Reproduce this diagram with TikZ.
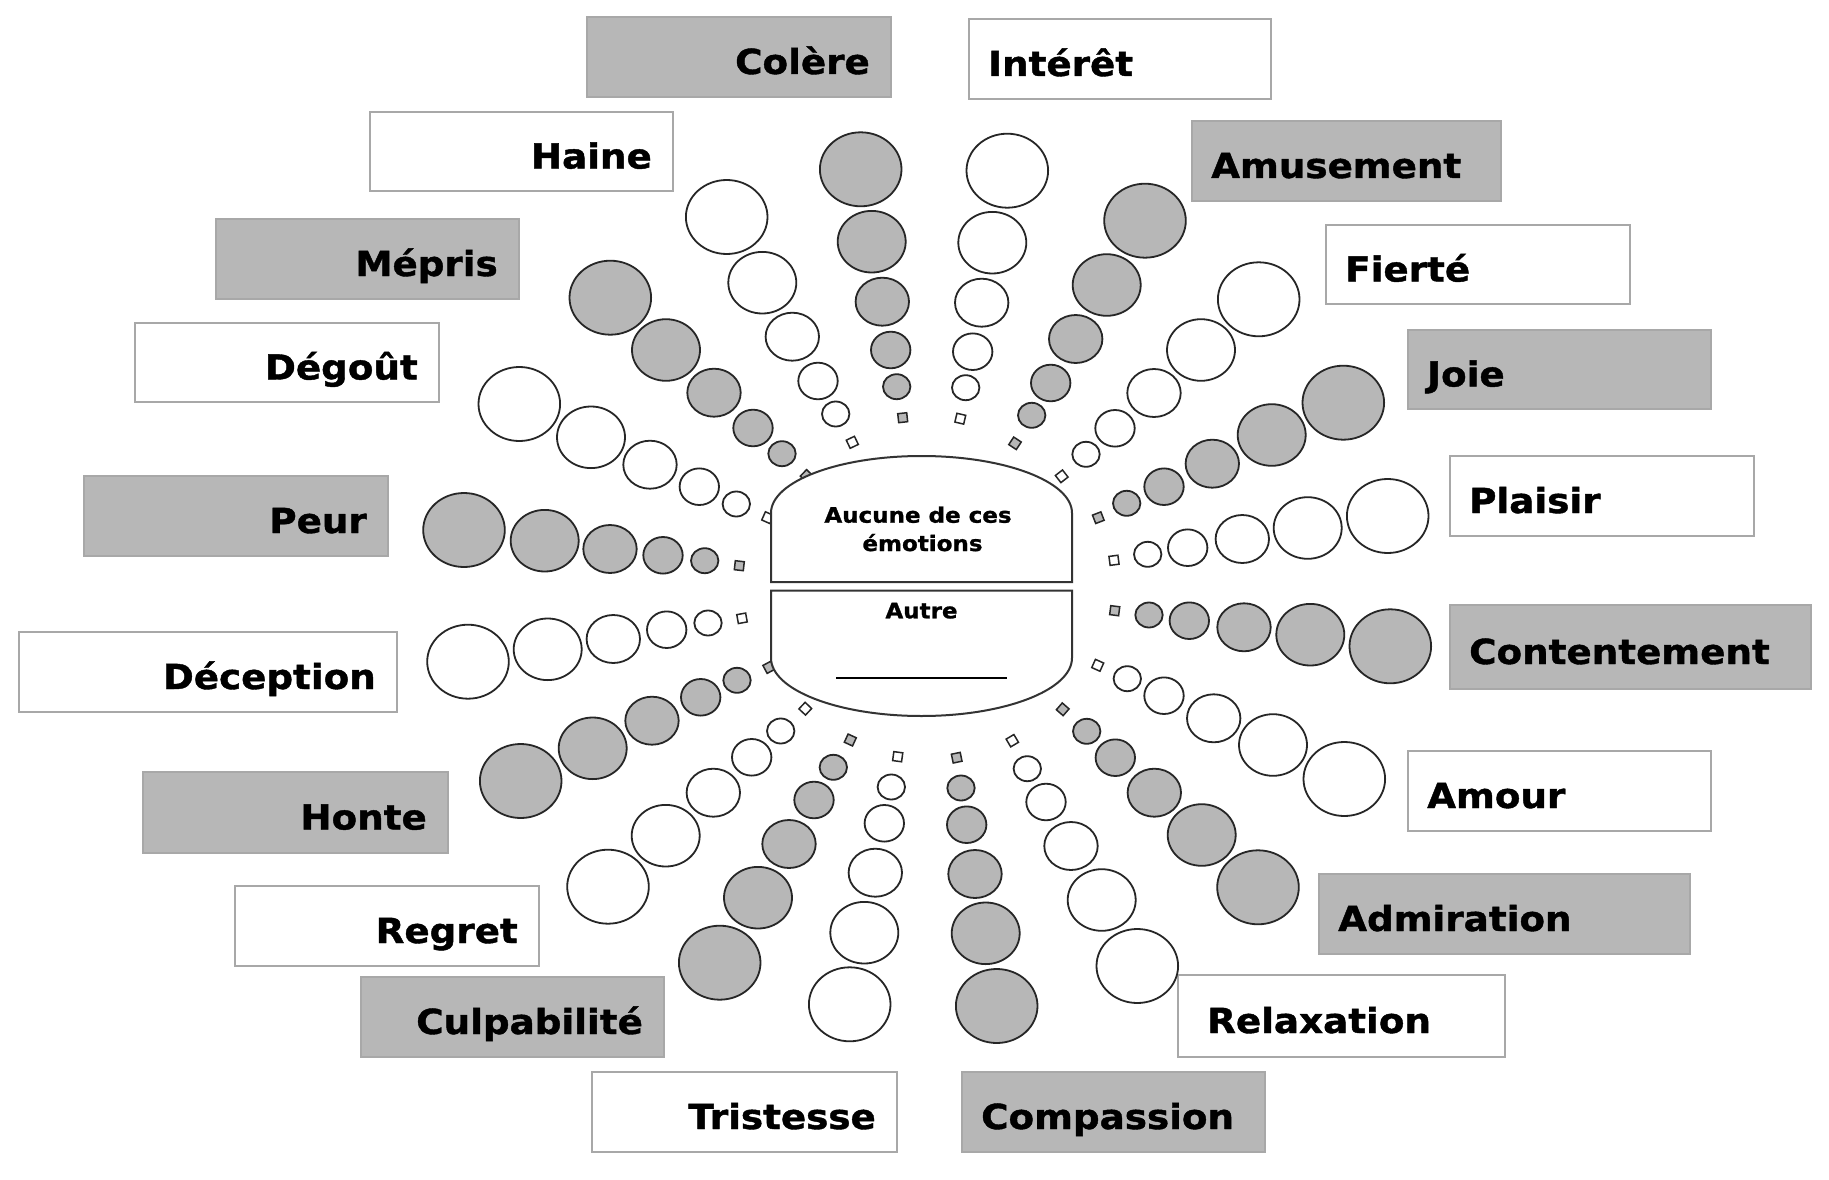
\documentclass[tikz,border=0pt]{standalone}
\usepackage{fontspec}
\newfontfamily\labfont{DejaVu Sans}[FakeStretch=1.08,FakeBold=1.2]
\usetikzlibrary{calc}
\definecolor{gfill}{RGB}{183,183,183}
\definecolor{bordergray}{RGB}{168,168,168}
\tikzset{
  lab/.style={inner sep=0pt, font=\labfont\bfseries\fontsize{34.5}{40}\selectfont},
  ctext/.style={inner sep=0pt, font=\labfont\bfseries\fontsize{21.3}{28}\selectfont},
  gbox/.style={fill=gfill, draw=bordergray, line width=1.5pt},
  wbox/.style={fill=white, draw=bordergray, line width=1.5pt},
  circ/.style={draw=black!85, line width=1.8pt},
  sqr/.style={draw=black!85, line width=1.5pt, minimum size=9pt, inner sep=0pt, shape=rectangle},
  ctr/.style={draw=black!80, line width=2pt, fill=white},
}
\newcommand\leftlab[7]{%
  \draw[#6] (#2,#3) rectangle (#4,#5);
  \node[lab, anchor=base east] (#1) at ({#4-21},{(#3+#5)/2+17}) {#7};}
\newcommand\rightlab[7]{%
  \draw[#6] (#2,#3) rectangle (#4,#5);
  \node[lab, anchor=base west] (#1) at ({#2+19},{(#3+#5)/2+17}) {#7};}
\begin{document}
\begin{tikzpicture}[x=1pt,y=-1pt]
\useasboundingbox (0,0) rectangle (1829,1180);
\fill[white] (0,0) rectangle (1829,1180);

% labels, left side
\leftlab{colere}{587}{17}{891}{97}{gbox}{Colère}
\leftlab{haine}{370}{112}{673}{191}{wbox}{Haine}
\leftlab{mepris}{216}{219}{519}{299}{gbox}{Mépris}
\leftlab{degout}{135}{323}{439}{402}{wbox}{Dégoût}
\leftlab{peur}{84}{476}{388}{556}{gbox}{Peur}
\leftlab{deception}{19}{632}{397}{712}{wbox}{Déception}
\leftlab{honte}{143}{772}{448}{853}{gbox}{Honte}
\leftlab{regret}{235}{886}{539}{966}{wbox}{Regret}
\leftlab{culpabilite}{361}{977}{664}{1057}{gbox}{Culpabilité}
\leftlab{tristesse}{592}{1072}{897}{1152}{wbox}{Tristesse}
% labels, right side
\rightlab{interet}{969}{19}{1271}{99}{wbox}{Intérêt}
\rightlab{amusement}{1192}{121}{1501}{201}{gbox}{Amusement}
\rightlab{fierte}{1326}{225}{1630}{304}{wbox}{Fierté}
\rightlab{joie}{1408}{330}{1711}{409}{gbox}{Joie}
\rightlab{plaisir}{1450}{456}{1754}{536}{wbox}{Plaisir}
\rightlab{contentement}{1450}{605}{1811}{689}{gbox}{Contentement}
\rightlab{amour}{1408}{751}{1711}{831}{wbox}{Amour}
\rightlab{admiration}{1319}{874}{1690}{954}{gbox}{Admiration}
\draw[wbox] (1178,975) rectangle (1505,1057);
\node[lab, anchor=base west] (relaxation) at (1207,1033) {Relaxation};
\rightlab{compassion}{962}{1072}{1265}{1152}{gbox}{Compassion}

% spokes
\foreach \f/\sx/\sy/\xa/\ya/\xb/\yb/\xc/\yc/\xd/\yd/\xe/\ye [count=\i] in {
 gfill/902.7/417.7/896.7/386.7/890.7/350/882.3/301.7/871.7/241.7/860.7/169.3,
 white/852.3/442.3/835.7/414/818/381/792.3/336.7/762.3/282.7/726.7/217,
 gfill/806.7/476/782/453.7/753/428/714/392.7/666/350/610.3/297.7,
 white/767.7/517.7/736.3/504/699.3/486.7/650/464.7/591/437.3/519.3/404,
 gfill/739.3/565.7/704.7/560.7/663/555.3/610/549/544.7/540.7/464/530,
 white/742/618.3/708/623/666.7/629.7/613.3/639/547.7/649.3/468/661.7,
 gfill/769/667.3/737/680.3/700.7/697.3/652/720.7/592.7/748.3/520.7/781,
 white/805.3/708.7/780.7/731/751.7/757.3/713.3/792.7/665.7/835.7/608/886.7,
 gfill/850.3/740/833.3/767.3/814/800/789/844/758/897.7/719.7/962.7,
 white/897.7/756.7/891.3/787/884.3/823.3/875.3/872.7/864.3/932.7/849.7/1004.3,
 gfill/956.7/757.7/961/788/966.7/824.7/975/874/985.7/933.3/996.7/1006,
 white/1012.3/740.7/1027.3/768.7/1046/802/1071/846/1101.7/900/1137.3/966,
 gfill/1062.7/709.3/1086.7/731.3/1115.3/757.7/1154.3/792.7/1201.7/835/1258/887.3,
 white/1097.7/665.3/1127.3/678.7/1164/695.7/1213.7/718.3/1273/745/1344.3/779,
 gfill/1114.7/610.7/1149/615/1189.3/620.7/1244/627.3/1310.3/634.7/1390.3/646.3,
 white/1114/560.3/1147.7/554.3/1187.7/547.7/1242.3/539/1307.7/528/1387.7/516,
 gfill/1098.3/517.7/1126.7/503.3/1164/486.7/1212.3/463.7/1271.7/435/1343.3/402.7,
 white/1061.7/476.3/1086/454.3/1115/428.3/1154/393/1201/350/1258.7/299.3,
 gfill/1015/443.3/1031.7/415.3/1050.7/383/1075.7/339/1106.7/285/1145/220.7,
 white/960.3/418.7/965.7/387.7/972.7/351.7/981.7/302.7/992.3/242.7/1007.3/170.7}
{
  \pgfmathsetmacro\ang{atan2(586-\sy,\sx-921)}
  \node[sqr, fill=\f, rotate=\ang] (sq\i) at (\sx,\sy) {};
  \draw[circ, fill=\f] (\xa,\ya) ellipse [x radius=13.7pt, y radius=12.5pt];
  \draw[circ, fill=\f] (\xb,\yb) ellipse [x radius=19.7pt, y radius=18.3pt];
  \draw[circ, fill=\f] (\xc,\yc) ellipse [x radius=26.7pt, y radius=24pt];
  \draw[circ, fill=\f] (\xd,\yd) ellipse [x radius=34pt, y radius=30.8pt];
  \draw[circ, fill=\f] (\xe,\ye) ellipse [x radius=40.8pt, y radius=37pt];
}

% centre
\draw[ctr] (771,582) -- (771,513) arc[start angle=180, end angle=0, x radius=150.5pt, y radius=57pt] -- (1072,582) -- cycle;
\draw[ctr] (771,590.5) -- (771,658) arc[start angle=180, end angle=360, x radius=150.5pt, y radius=58pt] -- (1072,590.5) -- cycle;
\node[ctext, anchor=base] (aucune) at (918,522.7) {Aucune de ces};
\node[ctext, anchor=base] (emotions) at (922.5,551) {émotions};
\node[ctext, anchor=base] (autre) at (921.5,618.3) {Autre};
\coordinate (ulA) at (836,678);
\coordinate (ulB) at (1007,678);
\draw[line width=2.7pt] (ulA) -- (ulB);
\end{tikzpicture}
\end{document}
